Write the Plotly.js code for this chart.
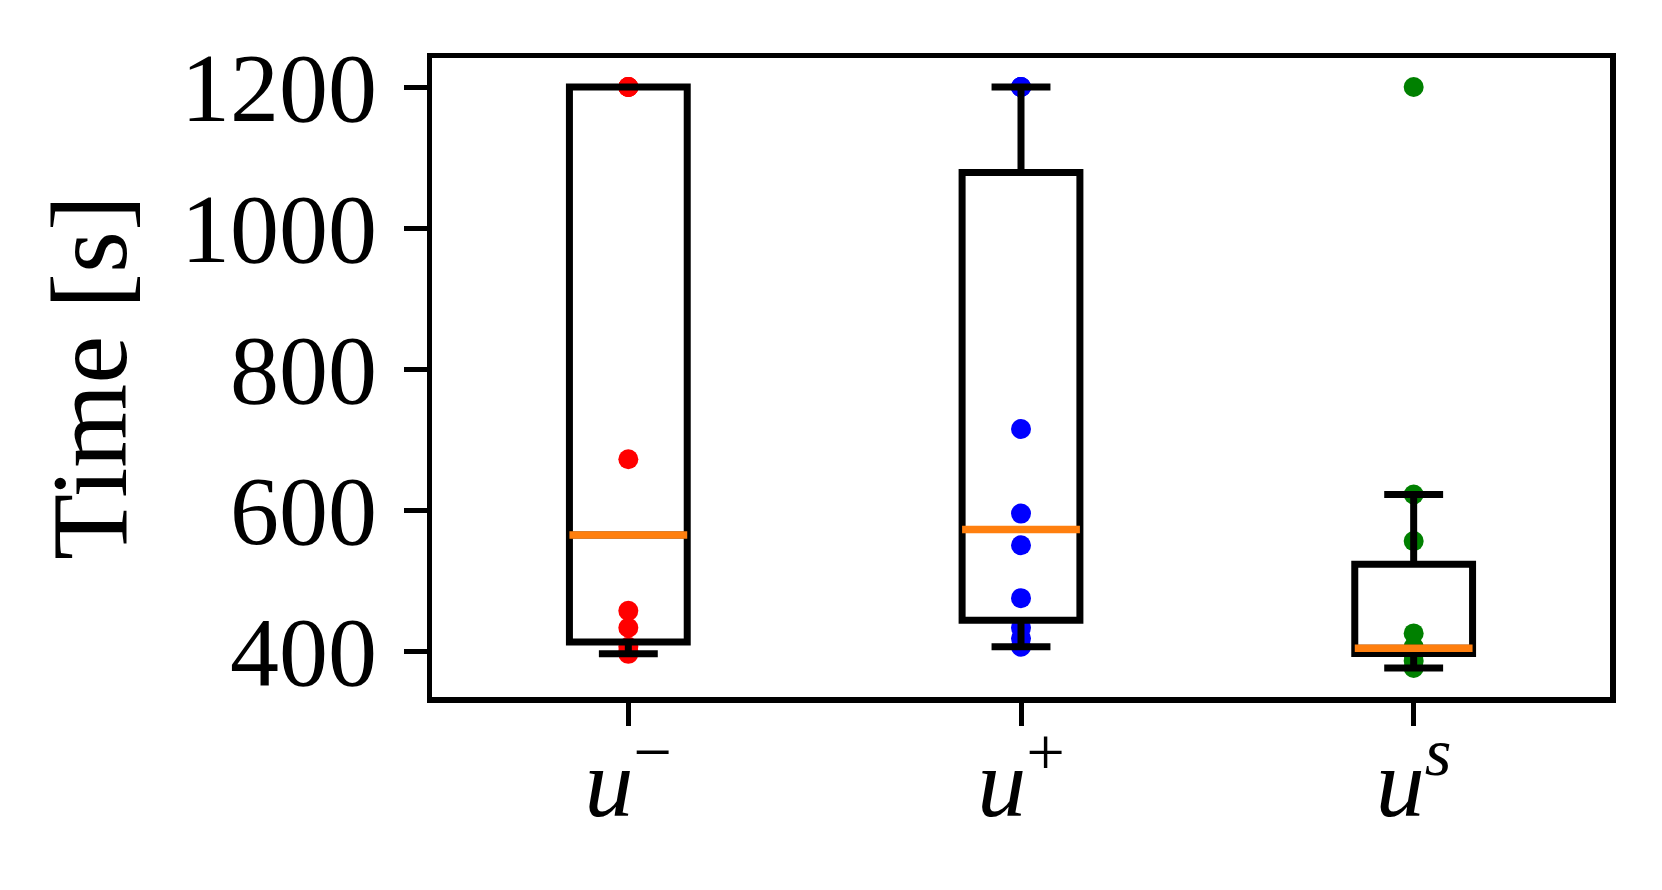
<!DOCTYPE html>
<html>
<head>
<meta charset="utf-8">
<script src="https://cdn.plot.ly/plotly-3.0.1.min.js"></script>
<style>html,body{margin:0;padding:0;background:#fff;}</style>
</head>
<body>
<div id="plot" style="width:1662px;height:890px;"></div>
<script>
// run times per controller (1200 = timeout)
var positions = [1, 2, 3];
var tickLabels = ["<i>u</i><sup>−</sup>", "<i>u</i><sup>+</sup>", "<i>u</i><sup><i>s</i></sup>"];
var pointColors = ["#ff0000", "#0000ff", "#008000"];

var timesMinus = [396, 400, 406, 433, 457, 672, 1200, 1200, 1200, 1200];
var timesPlus = [406, 418, 433, 475, 550, 595, 715, 1200, 1200, 1200];
var timesS = [376, 386, 395, 401, 402, 406, 425, 556, 622, 1200];

var groups = [timesMinus, timesPlus, timesS];

// numpy-style linear percentile
function quantile(arr, q) {
  var s = arr.slice().sort(function (a, b) { return a - b; });
  var pos = (s.length - 1) * q;
  var lo = Math.floor(pos), hi = Math.ceil(pos);
  return s[lo] + (s[hi] - s[lo]) * (pos - lo);
}

var q1 = [], med = [], q3 = [], lo = [], hi = [];
groups.forEach(function (g) {
  var a = quantile(g, 0.25), m = quantile(g, 0.5), b = quantile(g, 0.75);
  var iqr = b - a;
  var inside = g.filter(function (v) { return v >= a - 1.5 * iqr && v <= b + 1.5 * iqr; });
  q1.push(a); med.push(m); q3.push(b);
  lo.push(Math.min.apply(null, inside));
  hi.push(Math.max.apply(null, inside));
});

var boxWidth = 0.3;
var data = [];

// sample points (drawn in the box layer so the boxes sit on top of them)
groups.forEach(function (g, i) {
  data.push({
    type: "box",
    y: g,
    x0: positions[i],
    width: boxWidth,
    boxpoints: "all",
    jitter: 0,
    pointpos: 0,
    fillcolor: "rgba(0,0,0,0)",
    line: {color: "rgba(0,0,0,0)", width: 0},
    marker: {color: pointColors[i], size: 20, line: {width: 0}},
    showlegend: false,
    hoverinfo: "y"
  });
});

// boxes
data.push({
  type: "box",
  x: positions,
  q1: q1,
  median: med,
  q3: q3,
  lowerfence: lo,
  upperfence: hi,
  width: boxWidth,
  whiskerwidth: 0.5,
  boxpoints: false,
  fillcolor: "rgba(0,0,0,0)",
  line: {color: "#000000", width: 7},
  showlegend: false
});

// medians in orange
var mx = [], my = [];
positions.forEach(function (p, i) {
  mx.push(p - boxWidth / 2, p + boxWidth / 2, null);
  my.push(med[i], med[i], null);
});
data.push({
  type: "scatter",
  mode: "lines",
  x: mx,
  y: my,
  line: {color: "#ff7f0e", width: 7.5},
  showlegend: false,
  hoverinfo: "skip"
});

var all = [].concat(timesMinus, timesPlus, timesS);
var ymin = Math.min.apply(null, all), ymax = Math.max.apply(null, all);
var pad = 0.05 * (ymax - ymin);

var font = {family: "Liberation Serif, DejaVu Serif, serif", size: 98, color: "#000"};
var titleFont = {family: "Liberation Serif, DejaVu Serif, serif", size: 108, color: "#000"};

var layout = {
  width: 1662,
  height: 890,
  margin: {l: 432, r: 52, t: 58, b: 193},
  paper_bgcolor: "#ffffff",
  plot_bgcolor: "#ffffff",
  font: font,
  showlegend: false,
  xaxis: {
    range: [0.5, 3.5],
    tickmode: "array",
    tickvals: positions,
    ticktext: tickLabels,
    ticks: "outside",
    ticklen: 23,
    tickwidth: 5,
    tickcolor: "#000",
    showline: true,
    linecolor: "#000",
    linewidth: 5.5,
    mirror: true,
    showgrid: false,
    zeroline: false,
    tickfont: font,
    ticklabelstandoff: -27
  },
  yaxis: {
    range: [ymin - pad, ymax + pad],
    tickmode: "linear",
    tick0: 0,
    dtick: 200,
    ticks: "outside",
    ticklen: 23,
    tickwidth: 5,
    tickcolor: "#000",
    showline: true,
    linecolor: "#000",
    linewidth: 5.5,
    mirror: true,
    showgrid: false,
    zeroline: false,
    tickfont: font,
    ticklabelstandoff: 7,
    title: {text: "Time [s]", font: titleFont, standoff: 20}
  }
};

Plotly.newPlot("plot", data, layout, {displayModeBar: false, staticPlot: true});
</script>
</body>
</html>
